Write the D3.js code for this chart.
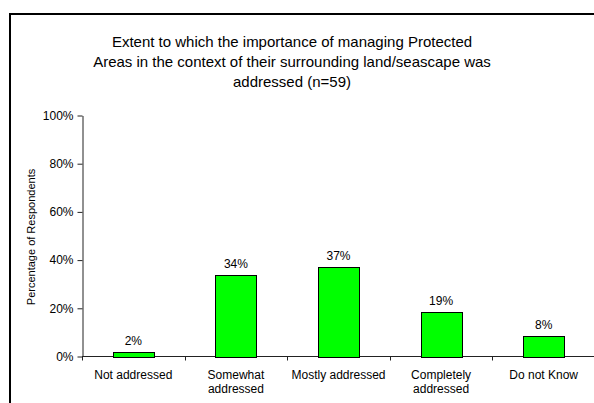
<!DOCTYPE html>
<html>
<head>
<meta charset="utf-8">
<script src="https://cdn.jsdelivr.net/npm/d3@7"></script>
<style>
  body { margin: 0; background: #fff; }
  svg text { font-family: "Liberation Sans", Arial, sans-serif; fill: #000; }
</style>
</head>
<body>
<svg id="svg" width="594" height="403"></svg>
<script>
var categories = [
    ['Not addressed'],
    ['Somewhat', 'addressed'],
    ['Mostly addressed'],
    ['Completely', 'addressed'],
    ['Do not Know']
];
var values = [0.017, 0.339, 0.373, 0.186, 0.0847];
var yTicks = [0, 0.2, 0.4, 0.6, 0.8, 1.0];
var titleLines = [
    'Extent to which the importance of managing Protected',
    'Areas in the context of their surrounding land/seascape was',
    'addressed (n=59)'
];
var yTitle = 'Percentage of Respondents';

var svg = d3.select('#svg');
var plot = { left: 82, right: 595, top: 115.5, bottom: 356.5 };

// outer frame, runs off the right and bottom edges like the source
svg.append('rect')
    .attr('x', 10)
    .attr('y', 14)
    .attr('width', 700)
    .attr('height', 500)
    .attr('fill', 'none')
    .attr('stroke', '#000')
    .attr('stroke-width', 2);

svg.append('g')
    .selectAll('text')
    .data(titleLines)
    .enter()
    .append('text')
    .attr('x', 292)
    .attr('y', function(d, i) { return 47 + i * 20; })
    .attr('text-anchor', 'middle')
    .style('font-size', '15px')
    .text(function(d) { return d; });

var x = d3.scaleBand()
    .domain(d3.range(categories.length))
    .range([plot.left, plot.right])
    .paddingInner(0.6)
    .paddingOuter(0.3);

var y = d3.scaleLinear()
    .domain([0, 1])
    .range([plot.bottom, plot.top]);

var yAxis = svg.append('g')
    .attr('transform', 'translate(' + (plot.left + 0.5) + ',0)')
    .call(d3.axisLeft(y)
        .tickValues(yTicks)
        .tickFormat(d3.format('.0%'))
        .tickSize(5)
        .tickPadding(4)
        .tickSizeOuter(0));
yAxis.select('.domain').attr('stroke', '#222');
yAxis.selectAll('.tick line').attr('stroke', '#222');
yAxis.selectAll('text')
    .style('font-size', '12px')
    .style('font-family', '"Liberation Sans", Arial, sans-serif');

// x axis with ticks between categories
var step = (plot.right - plot.left) / categories.length;
var xAxis = svg.append('g')
    .attr('transform', 'translate(0,' + plot.bottom + ')');
xAxis.append('line')
    .attr('x1', plot.left)
    .attr('x2', plot.right)
    .attr('stroke', '#222');
xAxis.selectAll('line.sep')
    .data(d3.range(categories.length))
    .enter()
    .append('line')
    .attr('class', 'sep')
    .attr('x1', function(d) { return Math.round(plot.left + d * step) + 0.5; })
    .attr('x2', function(d) { return Math.round(plot.left + d * step) + 0.5; })
    .attr('y1', 0)
    .attr('y2', 4)
    .attr('stroke', '#222');

var labels = xAxis.selectAll('text.cat')
    .data(categories)
    .enter()
    .append('text')
    .attr('class', 'cat')
    .attr('text-anchor', 'middle')
    .style('font-size', '12px');
labels.selectAll('tspan')
    .data(function(d, i) { return d.map(function(s) { return { s: s, i: i }; }); })
    .enter()
    .append('tspan')
    .attr('x', function(d) { return x(d.i) + x.bandwidth() / 2; })
    .attr('y', function(d, j) { return 22 + j * 14; })
    .text(function(d) { return d.s; });

svg.append('g')
    .selectAll('rect')
    .data(values)
    .enter()
    .append('rect')
    .attr('x', function(d, i) { return Math.round(x(i)) + 0.5; })
    .attr('y', function(d) { return Math.round(y(d)) + 0.5; })
    .attr('width', Math.round(x.bandwidth()))
    .attr('height', function(d) { return Math.round(plot.bottom) - Math.round(y(d)); })
    .attr('fill', '#00ff00')
    .attr('stroke', '#000');

svg.append('g')
    .selectAll('text')
    .data(values)
    .enter()
    .append('text')
    .attr('x', function(d, i) { return x(i) + x.bandwidth() / 2; })
    .attr('y', function(d) { return y(d) - 7; })
    .attr('text-anchor', 'middle')
    .style('font-size', '12px')
    .text(function(d) { return d3.format('.0%')(d); });

svg.append('text')
    .attr('transform', 'translate(35,237) rotate(-90)')
    .attr('text-anchor', 'middle')
    .style('font-size', '11px')
    .text(yTitle);
</script>
</body>
</html>
